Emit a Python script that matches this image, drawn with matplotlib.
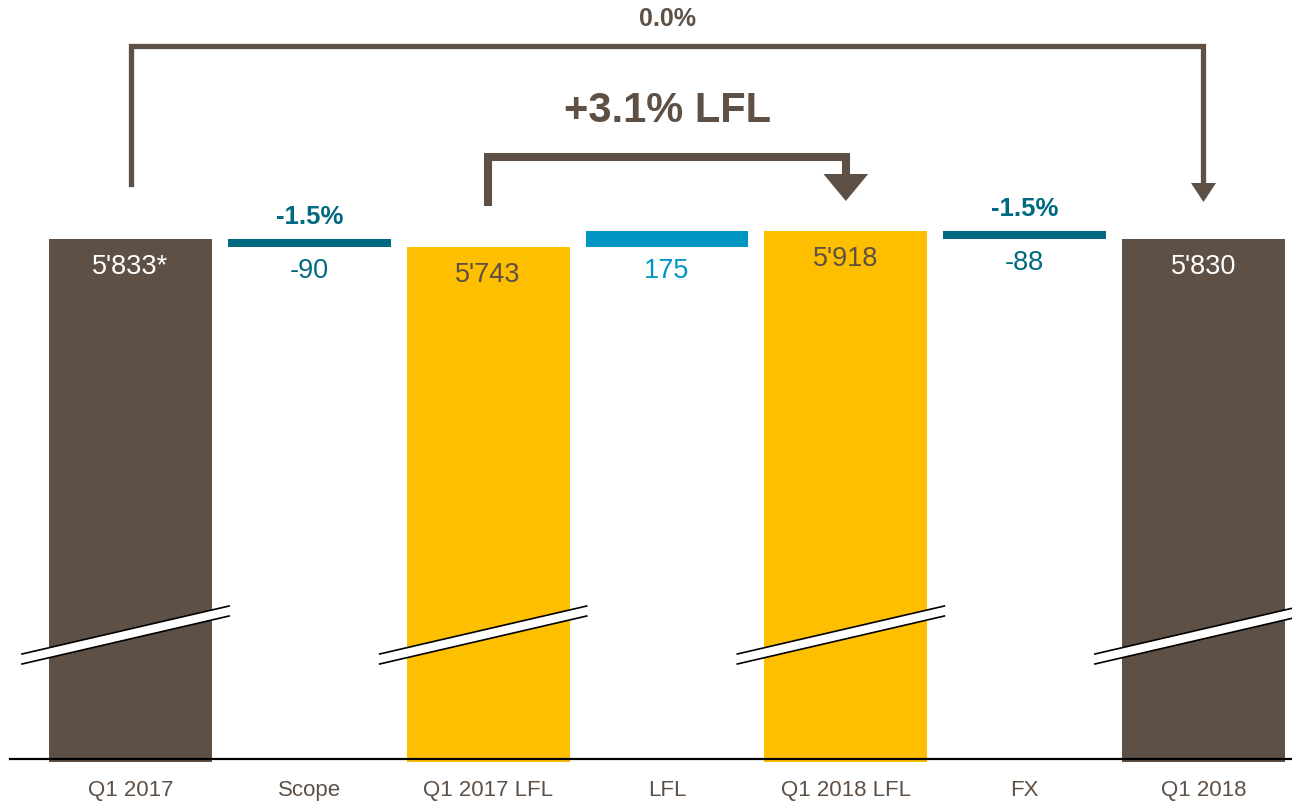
import matplotlib
matplotlib.use("Agg")
import matplotlib.pyplot as plt
from matplotlib.patches import Polygon
from matplotlib.transforms import blended_transform_factory

plt.rcParams['font.family'] = ['Liberation Sans', 'DejaVu Sans']

# data
categories = ["Q1 2017", "Scope", "Q1 2017 LFL", "LFL", "Q1 2018 LFL", "FX", "Q1 2018"]
kinds = ["total", "delta", "total", "delta", "total", "delta", "total"]
values = [5833, -90, 5743, 175, 5918, -88, 5830]
value_labels = ["5'833*", "-90", "5'743", "175", "5'918", "-88", "5'830"]
pct_labels = {1: "-1.5%", 5: "-1.5%"}
lfl_label = "+3.1% LFL"
total_label = "0.0%"

# colours
BROWN = "#5E5045"
YELLOW = "#FDBF00"
TEAL = "#006A80"
BLUE = "#0096C4"
bar_colors = [BROWN, TEAL, YELLOW, BLUE, YELLOW, TEAL, BROWN]
label_colors = ["white", TEAL, BROWN, BLUE, BROWN, TEAL, "white"]

# scale (broken axis: visible range starts well above zero)
Y_TOP = 8442
PX_PER_UNIT = 0.092
AX_PX = 763.0
Y_BOT = Y_TOP - AX_PX / PX_PER_UNIT
BASELINE = Y_TOP - 760 / PX_PER_UNIT
W = 0.91

fig = plt.figure(figsize=(12.92, 8.04), dpi=100)
ax = fig.add_axes([0, (804 - AX_PX) / 804, 1, AX_PX / 804])
ax.set_xlim(-0.730, 6.495)
ax.set_ylim(Y_BOT, Y_TOP)
for s in ax.spines.values():
    s.set_visible(False)
ax.set_yticks([])
ax.set_xticks(range(len(categories)), labels=categories)
ax.tick_params(axis='x', length=0, pad=12.5, labelsize=16, labelcolor=BROWN)

# waterfall bars
running = 0
for i, (k, v) in enumerate(zip(kinds, values)):
    if k == "total":
        ax.bar(i, v - Y_BOT, bottom=Y_BOT, width=W, color=bar_colors[i], zorder=2)
        running = v
        ax.annotate(value_labels[i], (i, v), xytext=(0, -19.5), textcoords='offset points',
                    ha='center', va='center', fontsize=19.5, color=label_colors[i], zorder=4)
    else:
        lo, hi = sorted([running, running + v])
        ax.bar(i, hi - lo, bottom=lo, width=W, color=bar_colors[i], zorder=2)
        running += v
        ax.annotate(value_labels[i], (i, lo), xytext=(0, -16), textcoords='offset points',
                    ha='center', va='center', fontsize=19.5, color=label_colors[i], zorder=4)
        if i in pct_labels:
            ax.annotate(pct_labels[i], (i, hi), xytext=(0, 16.5), textcoords='offset points',
                        ha='center', va='center', fontsize=18.5, fontweight='bold',
                        color=label_colors[i], zorder=4)

ax.axhline(BASELINE, xmin=10 / 1292, xmax=1, color="black", lw=1.6, zorder=3)

# axis break marks on the total bars
tr = blended_transform_factory(ax.transData, ax.transAxes)
up = ((763 - 655) / AX_PX, (763 - 607) / AX_PX)
lo_ = ((763 - 665) / AX_PX, (763 - 617) / AX_PX)
for i, k in enumerate(kinds):
    if k != "total":
        continue
    x0, x1 = i - 0.607, i + 0.551
    ax.add_patch(Polygon([(x0, up[0]), (x1, up[1]), (x1, lo_[1]), (x0, lo_[0])],
                         closed=True, transform=tr, facecolor="white", edgecolor="none", zorder=5))
    ax.plot([x0, x1], [up[0], up[1]], transform=tr, color="black", lw=1.2, zorder=6)
    ax.plot([x0, x1], [lo_[0], lo_[1]], transform=tr, color="black", lw=1.2, zorder=6)

def fy(px):
    return (AX_PX - px) / AX_PX

# outer bracket Q1 2017 -> Q1 2018
ax.plot([0, 0, 6, 6], [fy(185), fy(47), fy(47), fy(186)], transform=tr,
        color=BROWN, lw=3.8, solid_joinstyle='miter', zorder=4, clip_on=False)
ax.add_patch(Polygon([(6 - 0.07, fy(184)), (6 + 0.07, fy(184)), (6, fy(203))],
                     closed=True, transform=tr, facecolor=BROWN, edgecolor="none", zorder=4))
ax.text(3, fy(19), total_label, transform=tr, ha='center', va='center',
        fontsize=18, fontweight='bold', color=BROWN)

# inner bracket Q1 2017 LFL -> Q1 2018 LFL
ax.plot([2, 2, 4, 4], [fy(203), fy(158), fy(158), fy(176)], transform=tr,
        color=BROWN, lw=5.8, solid_joinstyle='miter', zorder=4)
ax.add_patch(Polygon([(4 - 0.125, fy(175)), (4 + 0.125, fy(175)), (4, fy(202))],
                     closed=True, transform=tr, facecolor=BROWN, edgecolor="none", zorder=4))
ax.text(3, fy(111), lfl_label, transform=tr, ha='center', va='center',
        fontsize=30, fontweight='bold', color=BROWN)

fig.savefig("out.png", dpi=100, facecolor="white")
